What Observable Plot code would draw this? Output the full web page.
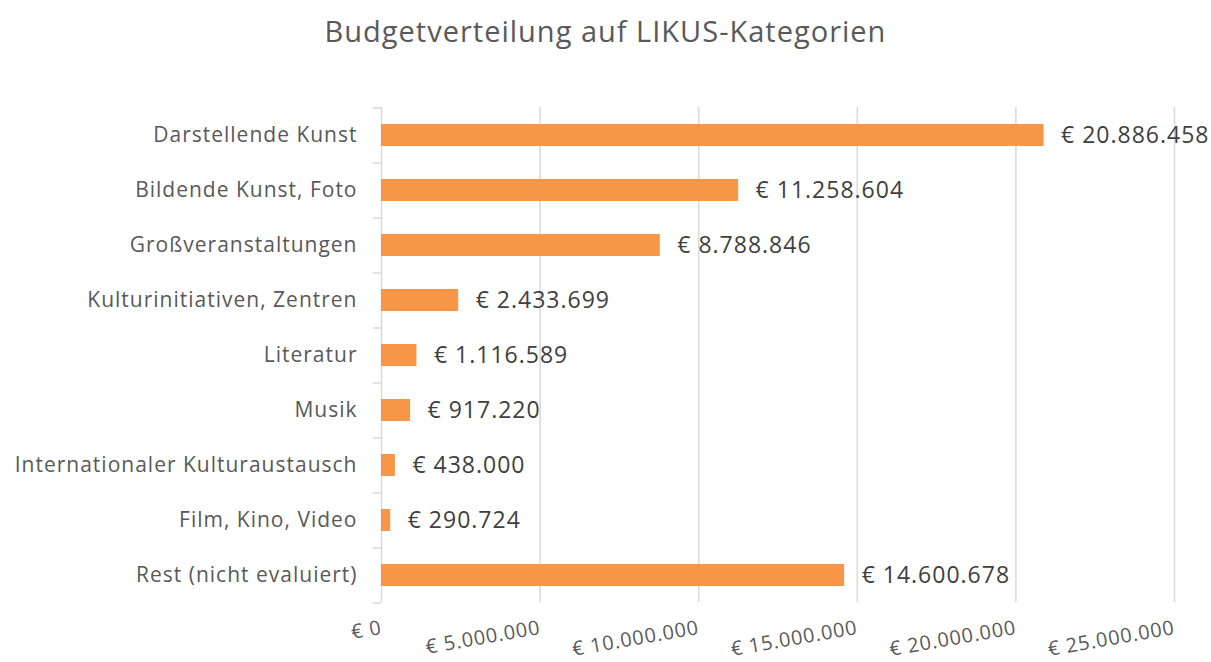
<!DOCTYPE html>
<html><head><meta charset="utf-8">
<script src="https://cdn.jsdelivr.net/npm/d3@7"></script>
<script src="https://cdn.jsdelivr.net/npm/@observablehq/plot@0.6"></script>
<style>
body{margin:0;background:#fff;font-family:"Open Sans",sans-serif;}
#title{height:70px;line-height:62px;text-align:center;font-size:29px;letter-spacing:1px;color:#595959;}
#chart g[aria-label="y-axis tick label"]{letter-spacing:1px;}
#chart g[aria-label="x-axis tick label"]{letter-spacing:0.8px;}
#chart g[aria-label="text"]{letter-spacing:1px;}
</style>
</head><body>
<div id="title">Budgetverteilung auf LIKUS-Kategorien</div>
<div id="chart"></div>
<script>
const categories = ["Darstellende Kunst","Bildende Kunst, Foto","Großveranstaltungen","Kulturinitiativen, Zentren","Literatur","Musik","Internationaler Kulturaustausch","Film, Kino, Video","Rest (nicht evaluiert)"];
const values = [20886458, 11258604, 8788846, 2433699, 1116589, 917220, 438000, 290724, 14600678];
const xTicks = [0, 5000000, 10000000, 15000000, 20000000, 25000000];

const loc = d3.formatLocale({decimal: ",", thousands: ".", grouping: [3], currency: ["€ ", ""]});
const num = loc.format(",d");
const fmt = v => "€ " + num(v);
const data = categories.map((c, i) => ({category: c, value: values[i]}));

const chart = Plot.plot({
  width: 1211,
  height: 592,
  marginLeft: 381,
  marginRight: 37,
  marginTop: 37,
  marginBottom: 60,
  style: {fontFamily: "'Open Sans', sans-serif", background: "#fff"},
  x: {domain: [0, 25000000], label: null},
  y: {domain: categories, label: null, paddingInner: 0.6, paddingOuter: 0.3},
  marks: [
    Plot.gridX(xTicks, {stroke: "#d9d9d9", strokeOpacity: 1, strokeWidth: 1.5}),
    Plot.barX(data, {x: "value", y: "category", fill: "#f79646"}),
    Plot.text(data, {x: "value", y: "category", text: d => fmt(d.value), textAnchor: "start", dx: 17, fontSize: 23, fill: "#404040"}),
    Plot.axisY({tickSize: 0, tickPadding: 24, fontSize: 21, fill: "#595959"}),
    Plot.axisY({text: null, tickSize: 8, stroke: "#d9d9d9", strokeWidth: 1.5, dy: -27.5}),
    Plot.axisY([categories[categories.length - 1]], {text: null, tickSize: 8, stroke: "#d9d9d9", strokeWidth: 1.5, dy: 27.5}),
    Plot.axisX(xTicks, {tickRotate: -10, tickSize: 0, tickPadding: 25, tickFormat: fmt, fontSize: 20, fill: "#595959"})
  ]
});
document.getElementById("chart").appendChild(chart);
</script>
</body></html>
